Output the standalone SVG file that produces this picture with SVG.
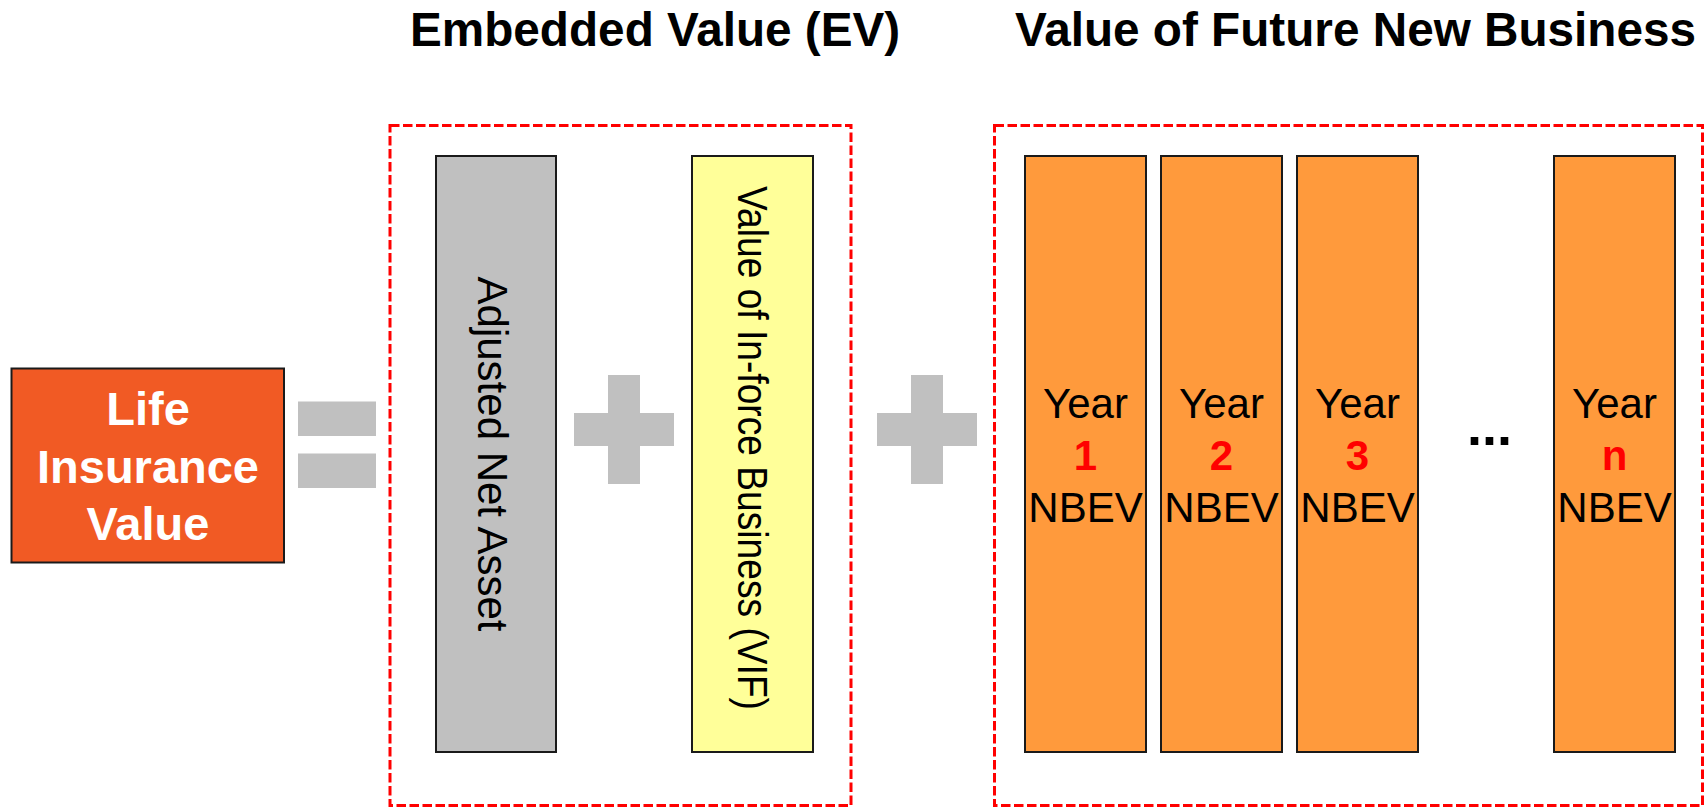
<svg xmlns="http://www.w3.org/2000/svg" width="1706" height="808" viewBox="0 0 1706 808">
  <style>
    .title { font-family: "Liberation Sans", Arial, sans-serif; font-weight: bold; font-size: 47.7px; fill: #000; }
    .dash { fill: none; stroke: #FF0000; stroke-width: 3; stroke-dasharray: 9.5 3.5; }
    .bar { stroke: #1a1a1a; stroke-width: 2; }
    .op { fill: #C0C0C0; }
    .vt { font-family: "Liberation Sans", Arial, sans-serif; font-size: 42px; fill: #000; text-anchor: middle; }
    .yr { font-family: "Liberation Sans", Arial, sans-serif; font-size: 42px; fill: #000; text-anchor: middle; }
    .num { font-family: "Liberation Sans", Arial, sans-serif; font-size: 42px; font-weight: bold; fill: #FF0000; text-anchor: middle; }
    .life { font-family: "Liberation Sans", Arial, sans-serif; font-size: 47px; font-weight: bold; fill: #FFFFFF; text-anchor: middle; }
  </style>

  <g id="titles">
    <text class="title" x="410" y="46">Embedded Value (EV)</text>
    <text class="title" x="1015" y="46">Value of Future New Business</text>
  </g>

  <g id="ev-group">
    <rect class="dash" x="390" y="125.5" width="461" height="680"/>
  </g>
  <g id="vfnb-group">
    <rect class="dash" x="994.5" y="125.5" width="708" height="680"/>
  </g>

  <g id="life-insurance-value">
    <rect x="11.5" y="368.5" width="272.5" height="194" fill="#F15A24" stroke="#1a1a1a" stroke-width="2"/>
    <text class="life" x="148" y="425">Life</text>
    <text class="life" x="148" y="483">Insurance</text>
    <text class="life" x="148" y="540">Value</text>
  </g>

  <g id="operators">
    <rect class="op" x="298" y="401.5" width="78" height="34.5"/>
    <rect class="op" x="298" y="453.5" width="78" height="34.5"/>
    <rect class="op" x="608" y="375" width="32" height="109"/>
    <rect class="op" x="574" y="413" width="100" height="33"/>
    <rect class="op" x="911" y="375" width="32" height="109"/>
    <rect class="op" x="877" y="413" width="100" height="33"/>
  </g>

  <g id="adjusted-net-asset">
    <rect class="bar" x="436" y="156" width="120" height="596" fill="#C0C0C0"/>
    <text class="vt" transform="translate(478,454) rotate(90)" x="0" y="0">Adjusted Net Asset</text>
  </g>

  <g id="vif">
    <rect class="bar" x="692" y="156" width="121" height="596" fill="#FFFF99"/>
    <text class="vt" transform="translate(738,448) rotate(90)" x="0" y="0" font-size="40.5" textLength="524" lengthAdjust="spacingAndGlyphs">Value of In-force Business  (VIF)</text>
  </g>

  <g id="year-1">
    <rect class="bar" x="1025" y="156" width="121" height="596" fill="#FF9A3C"/>
    <text class="yr" x="1085.5" y="418">Year</text>
    <text class="num" x="1085.5" y="470">1</text>
    <text class="yr" x="1085.5" y="521.5">NBEV</text>
  </g>
  <g id="year-2">
    <rect class="bar" x="1161" y="156" width="121" height="596" fill="#FF9A3C"/>
    <text class="yr" x="1221.5" y="418">Year</text>
    <text class="num" x="1221.5" y="470">2</text>
    <text class="yr" x="1221.5" y="521.5">NBEV</text>
  </g>
  <g id="year-3">
    <rect class="bar" x="1297" y="156" width="121" height="596" fill="#FF9A3C"/>
    <text class="yr" x="1357.5" y="418">Year</text>
    <text class="num" x="1357.5" y="470">3</text>
    <text class="yr" x="1357.5" y="521.5">NBEV</text>
  </g>
  <g id="ellipsis">
    <text x="1467" y="445" font-family="'Liberation Sans', Arial, sans-serif" font-weight="bold" font-size="54" fill="#000">...</text>
  </g>
  <g id="year-n">
    <rect class="bar" x="1554" y="156" width="121" height="596" fill="#FF9A3C"/>
    <text class="yr" x="1614.5" y="418">Year</text>
    <text class="num" x="1614.5" y="470">n</text>
    <text class="yr" x="1614.5" y="521.5">NBEV</text>
  </g>

  <g id="connectors"></g>
</svg>
